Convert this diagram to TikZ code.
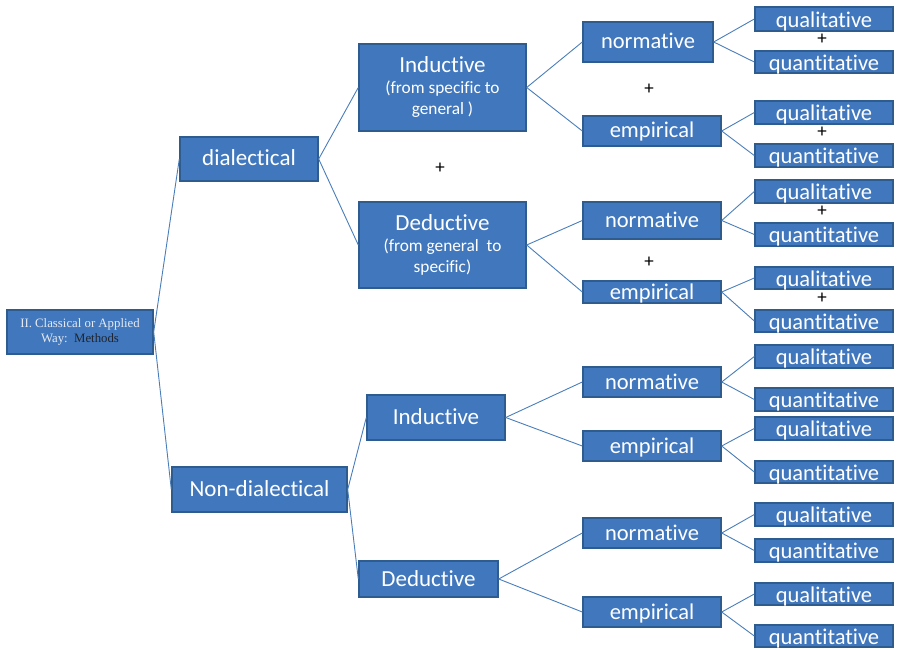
\documentclass[tikz,border=0pt]{standalone}
\usepackage{fontspec}
\setmainfont{Carlito}[Ligatures={NoCommon}]
\newfontfamily\rootfont{Liberation Serif}
\definecolor{boxfill}{HTML}{4178BD}
\definecolor{boxedge}{HTML}{2F5C8F}
\definecolor{linkblue}{HTML}{4A7EBB}
\definecolor{rootlight}{HTML}{E4E9F2}
\definecolor{rootdark}{HTML}{1E2530}
% a centred block: a large first line and a smaller rest
\newcommand{\headedtext}[2]{\parbox[c]{167pt}{\centering
  \fontsize{23}{26}\selectfont #1\par
  \fontsize{17.3}{21}\selectfont #2\par}}
\begin{document}
\begin{tikzpicture}[x=1pt,y=-1pt,
  box/.style={draw=boxedge,line width=1.4pt,fill=boxfill,text=white,
    inner sep=0pt,text height=15pt,text depth=1pt},
  bigbox/.style={box,font=\fontsize{23}{26}\selectfont},
  leafbox/.style={box,minimum width=138pt,font=\fontsize{22.5}{24}\selectfont,
    text height=16.5pt,text depth=0pt},
  midbox/.style={box,minimum width=138pt,font=\fontsize{22.5}{24}\selectfont},
  twoline/.style={draw=boxedge,line width=1.4pt,fill=boxfill,text=white,
    inner sep=0pt,minimum width=167pt},
  conn/.style={draw=linkblue,line width=0.9pt},
  plus/.style={inner sep=0pt,font=\fontsize{19}{20}\selectfont,text=black}]
\useasboundingbox (0,0) rectangle (898,650);

% root
\node[draw=boxedge,line width=1.4pt,fill=boxfill,inner sep=0pt,
  minimum width=146pt,minimum height=44pt,align=center,
  font=\rootfont\fontsize{12.8}{15}\selectfont,text=rootlight]
  (root) at (80,332) {II. Classical or Applied\\Way:\ \ \textcolor{rootdark}{Methods}};

% second level
\node[bigbox,minimum width=138pt,minimum height=44pt] (dia) at (249,159) {dialectical};
\node[bigbox,minimum width=175pt,minimum height=45pt] (nond) at (259.5,489.5) {Non-dialectical};

% third level
\node[twoline,minimum height=87pt] (indA) at (442.5,87.5)
  {\headedtext{Inductive}{(from specific to\par general )}};
\node[twoline,minimum height=86pt] (dedA) at (442.5,245)
  {\headedtext{Deductive}{(from general\ \ to\par specific)}};
\node[bigbox,minimum width=138pt,minimum height=45pt] (indB) at (436,417.5) {Inductive};
\node[bigbox,minimum width=139pt,minimum height=36pt] (dedB) at (428.5,579) {Deductive};

% fourth level
\node[midbox,minimum width=130pt,minimum height=40pt] (n1) at (648,42) {normative};
\node[midbox,minimum height=30pt] (e1) at (652,131) {empirical};
\node[midbox,minimum height=37pt] (n2) at (652,220.5) {normative};
\node[midbox,minimum height=22pt] (e2) at (652,292) {empirical};
\node[midbox,minimum height=30pt] (n3) at (652,382) {normative};
\node[midbox,minimum height=30pt] (e3) at (652,446) {empirical};
\node[midbox,minimum height=30pt] (n4) at (652,533) {normative};
\node[midbox,minimum height=30pt] (e4) at (652,612) {empirical};

% leaves
\node[leafbox,minimum height=24pt] (q1a) at (824,19) {qualitative};
\node[leafbox,minimum height=22pt] (q1b) at (824,62) {quantitative};
\node[leafbox,minimum height=23pt] (q2a) at (824,112.5) {qualitative};
\node[leafbox,minimum height=23pt] (q2b) at (824,155.5) {quantitative};
\node[leafbox,minimum height=23pt] (q3a) at (824,191.5) {qualitative};
\node[leafbox,minimum height=23pt] (q3b) at (824,234.5) {quantitative};
\node[leafbox,minimum height=22pt] (q4a) at (824,278) {qualitative};
\node[leafbox,minimum height=22pt] (q4b) at (824,321) {quantitative};
\node[leafbox,minimum height=23pt] (q5a) at (824,356.5) {qualitative};
\node[leafbox,minimum height=23pt] (q5b) at (824,399.5) {quantitative};
\node[leafbox,minimum height=23pt] (q6a) at (824,428.5) {qualitative};
\node[leafbox,minimum height=22pt] (q6b) at (824,472) {quantitative};
\node[leafbox,minimum height=23pt] (q7a) at (824,514.5) {qualitative};
\node[leafbox,minimum height=23pt] (q7b) at (824,550.5) {quantitative};
\node[leafbox,minimum height=22pt] (q8a) at (824,594) {qualitative};
\node[leafbox,minimum height=22pt] (q8b) at (824,636) {quantitative};

% plus signs
\node[plus] (p1) at (440,168) {+};
\node[plus] (p2) at (649,89) {+};
\node[plus] (p3) at (822,39) {+};
\node[plus] (p4) at (822,132) {+};
\node[plus] (p5) at (822,211) {+};
\node[plus] (p6) at (649,262) {+};
\node[plus] (p7) at (822,298) {+};

% connectors
\draw[conn] (root.east) -- (dia.west);
\draw[conn] (root.east) -- (nond.west);
\draw[conn] (dia.east) -- (indA.west);
\draw[conn] (dia.east) -- (dedA.west);
\draw[conn] (nond.east) -- (indB.west);
\draw[conn] (nond.east) -- (dedB.west);
\draw[conn] (indA.east) -- (n1.west);
\draw[conn] (indA.east) -- (e1.west);
\draw[conn] (dedA.east) -- (n2.west);
\draw[conn] (dedA.east) -- (e2.west);
\draw[conn] (indB.east) -- (n3.west);
\draw[conn] (indB.east) -- (e3.west);
\draw[conn] (dedB.east) -- (n4.west);
\draw[conn] (dedB.east) -- (e4.west);
\draw[conn] (n1.east) -- (q1a.west);
\draw[conn] (n1.east) -- (q1b.west);
\draw[conn] (e1.east) -- (q2a.west);
\draw[conn] (e1.east) -- (q2b.west);
\draw[conn] (n2.east) -- (q3a.west);
\draw[conn] (n2.east) -- (q3b.west);
\draw[conn] (e2.east) -- (q4a.west);
\draw[conn] (e2.east) -- (q4b.west);
\draw[conn] (n3.east) -- (q5a.west);
\draw[conn] (n3.east) -- (q5b.west);
\draw[conn] (e3.east) -- (q6a.west);
\draw[conn] (e3.east) -- (q6b.west);
\draw[conn] (n4.east) -- (q7a.west);
\draw[conn] (n4.east) -- (q7b.west);
\draw[conn] (e4.east) -- (q8a.west);
\draw[conn] (e4.east) -- (q8b.west);
\end{tikzpicture}
\end{document}
